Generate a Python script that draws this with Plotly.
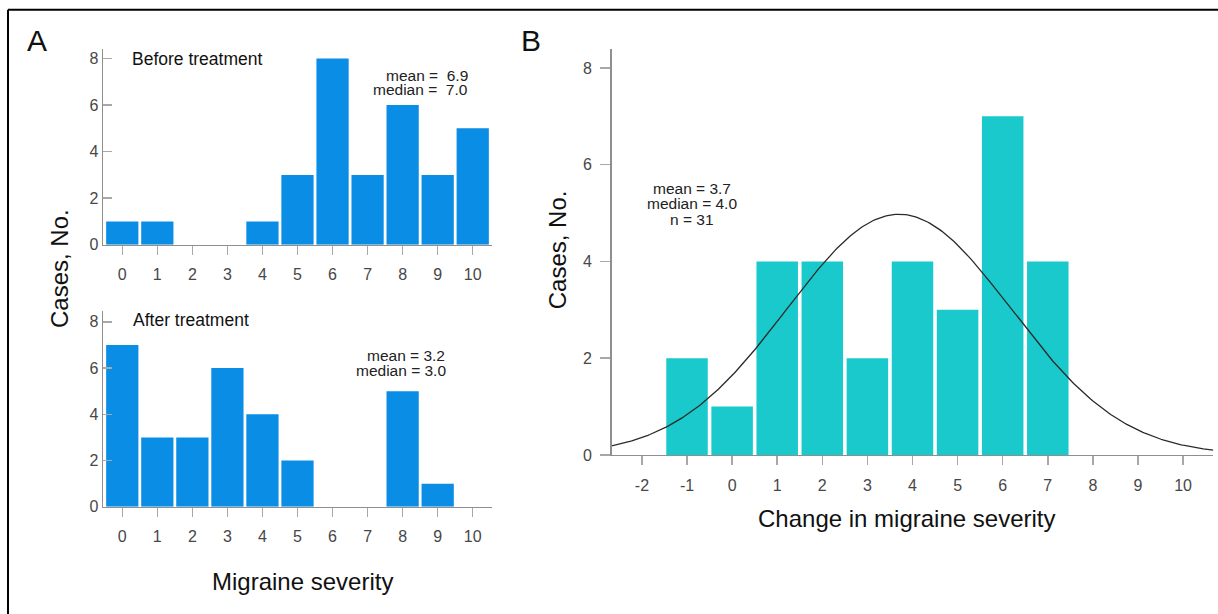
import numpy as np
import plotly.graph_objects as go

# ---------------- data ----------------
severity = list(range(0, 11))
before_counts = [1, 1, 0, 0, 1, 3, 8, 3, 6, 3, 5]
after_counts = [7, 3, 3, 6, 4, 2, 0, 0, 5, 1, 0]

change_values = [-1, 0, 1, 2, 3, 4, 5, 6, 7]
change_counts = [2, 1, 4, 4, 2, 4, 3, 7, 4]
change_ticks = list(range(-2, 11))
change_tick_labels = ["-2", "-1", "0", "1", "2", "3", "4", "5", "6", "7", "8", "9", "10"]
count_ticks = [0, 2, 4, 6, 8]

before_stats = ["mean =\u00a0\u00a06.9", "median =\u00a0\u00a07.0"]
after_stats = ["mean = 3.2", "median = 3.0"]
change_stats = ["mean = 3.7", "median = 4.0", "n = 31"]
stated_mean_change = 3.7

# ---------------- figure ----------------
W, H = 1218, 614
FONT = "Liberation Sans, Arial, sans-serif"
BLUE = "#0A8DE4"
TEAL = "#19C9CC"
AXIS = "#8f8f8f"
TICKC = "#a8a8a8"
TICKFONT = dict(family=FONT, size=16, color="#474747")


def px(x):
    return x / W


def py(y):
    return 1 - y / H


fig = go.Figure()

fig.add_trace(go.Bar(x=severity, y=before_counts, marker=dict(color=BLUE, line=dict(width=0)),
                     xaxis="x", yaxis="y", showlegend=False))
fig.add_trace(go.Bar(x=severity, y=after_counts, marker=dict(color=BLUE, line=dict(width=0)),
                     xaxis="x2", yaxis="y2", showlegend=False))
fig.add_trace(go.Bar(x=change_values, y=change_counts, marker=dict(color=TEAL, line=dict(width=0)),
                     xaxis="x3", yaxis="y3", showlegend=False))

# normal fit curve derived from the histogram data
samples = np.repeat(change_values, change_counts)
n = len(samples)
sd = samples.std(ddof=1)
mu = stated_mean_change
xr3 = [-2.67, 10.67]
xc = np.linspace(xr3[0], xr3[1], 300)
yc = n * 1.0 / (sd * np.sqrt(2 * np.pi)) * np.exp(-0.5 * ((xc - mu) / sd) ** 2)
fig.add_trace(go.Scatter(x=xc, y=yc, mode="lines", line=dict(color="#2a2a2a", width=1.3),
                         xaxis="x3", yaxis="y3", showlegend=False, hoverinfo="skip"))

common_x = dict(showline=True, linecolor=AXIS, linewidth=1.5, showgrid=False, zeroline=False,
                ticks="outside", ticklen=9, tickwidth=1.5, tickcolor=TICKC, tickfont=TICKFONT,
                ticklabelstandoff=6, fixedrange=True)
common_y = dict(showline=True, linecolor=AXIS, linewidth=1.5, showgrid=False, zeroline=False,
                tickwidth=1.5, tickcolor=TICKC, tickfont=TICKFONT, tickvals=count_ticks,
                fixedrange=True)

fig.update_layout(
    width=W, height=H, margin=dict(l=0, r=0, t=0, b=0),
    paper_bgcolor="white", plot_bgcolor="white",
    bargap=0.08, showlegend=False,
    font=dict(family=FONT, color="#111"),
    xaxis=dict(domain=[px(103), px(492)], range=[-0.55, 10.55], tickvals=severity,
               anchor="y", **common_x),
    yaxis=dict(domain=[py(248.3), py(50)], range=[0, 8.4], ticks="inside", ticklen=9,
               anchor="x", **common_y),
    xaxis2=dict(domain=[px(103), px(492)], range=[-0.55, 10.55], tickvals=severity,
                anchor="y2", **common_x),
    yaxis2=dict(domain=[py(514.3), py(316)], range=[0, 8.45], ticks="inside", ticklen=9,
                anchor="x2", **common_y),
    xaxis3=dict(domain=[px(611.7), px(1213.3)], range=xr3, tickvals=change_ticks,
                ticktext=change_tick_labels, anchor="y3", **common_x),
    yaxis3=dict(domain=[py(461.7), py(49.3)], range=[0, 8.4], ticks="outside", ticklen=10,
                ticklabelstandoff=5, anchor="x3", **common_y),
)

# frame (top and left lines visible)
fig.add_shape(type="line", xref="paper", yref="paper", x0=px(8), x1=1.01, y0=py(10), y1=py(10),
              line=dict(color="black", width=2))
fig.add_shape(type="line", xref="paper", yref="paper", x0=px(8), x1=px(8), y0=py(10), y1=-0.02,
              line=dict(color="black", width=2))


def ann(text, x, y, size, xanchor="center", color="#111", angle=0):
    fig.add_annotation(text=text, x=px(x), y=py(y), xref="paper", yref="paper",
                       xanchor=xanchor, yanchor="middle", showarrow=False, textangle=angle,
                       font=dict(family=FONT, size=size, color=color))


ann("A", 37, 41.6, 30)
ann("B", 531, 41.3, 30)
ann("Before treatment", 130, 60, 17.5, xanchor="left")
ann("After treatment", 130.7, 324.7, 17.5, xanchor="left")
ann(before_stats[0], 470, 76.3, 15.5, xanchor="right", color="#222")
ann(before_stats[1], 470, 91.3, 15.5, xanchor="right", color="#222")
ann(after_stats[0], 406, 360.6, 15.5, color="#222")
ann(after_stats[1], 401, 376.3, 15.5, color="#222")
for line, yy in zip(change_stats, [191, 207, 222.7]):
    ann(line, 692, yy, 15.5, color="#222")
ann("Cases, No.", 60, 273, 24, angle=-90)
ann("Cases, No.", 557, 254, 24, angle=-90)
ann("Migraine severity", 302.5, 590, 24)
ann("Change in migraine severity", 906, 526, 24)

fig.write_html(
    "out.html",
    config={"displayModeBar": False, "staticPlot": True},
    post_script="document.body.style.margin='0';document.body.style.padding='0';"
                "document.body.style.overflow='hidden';",
)
